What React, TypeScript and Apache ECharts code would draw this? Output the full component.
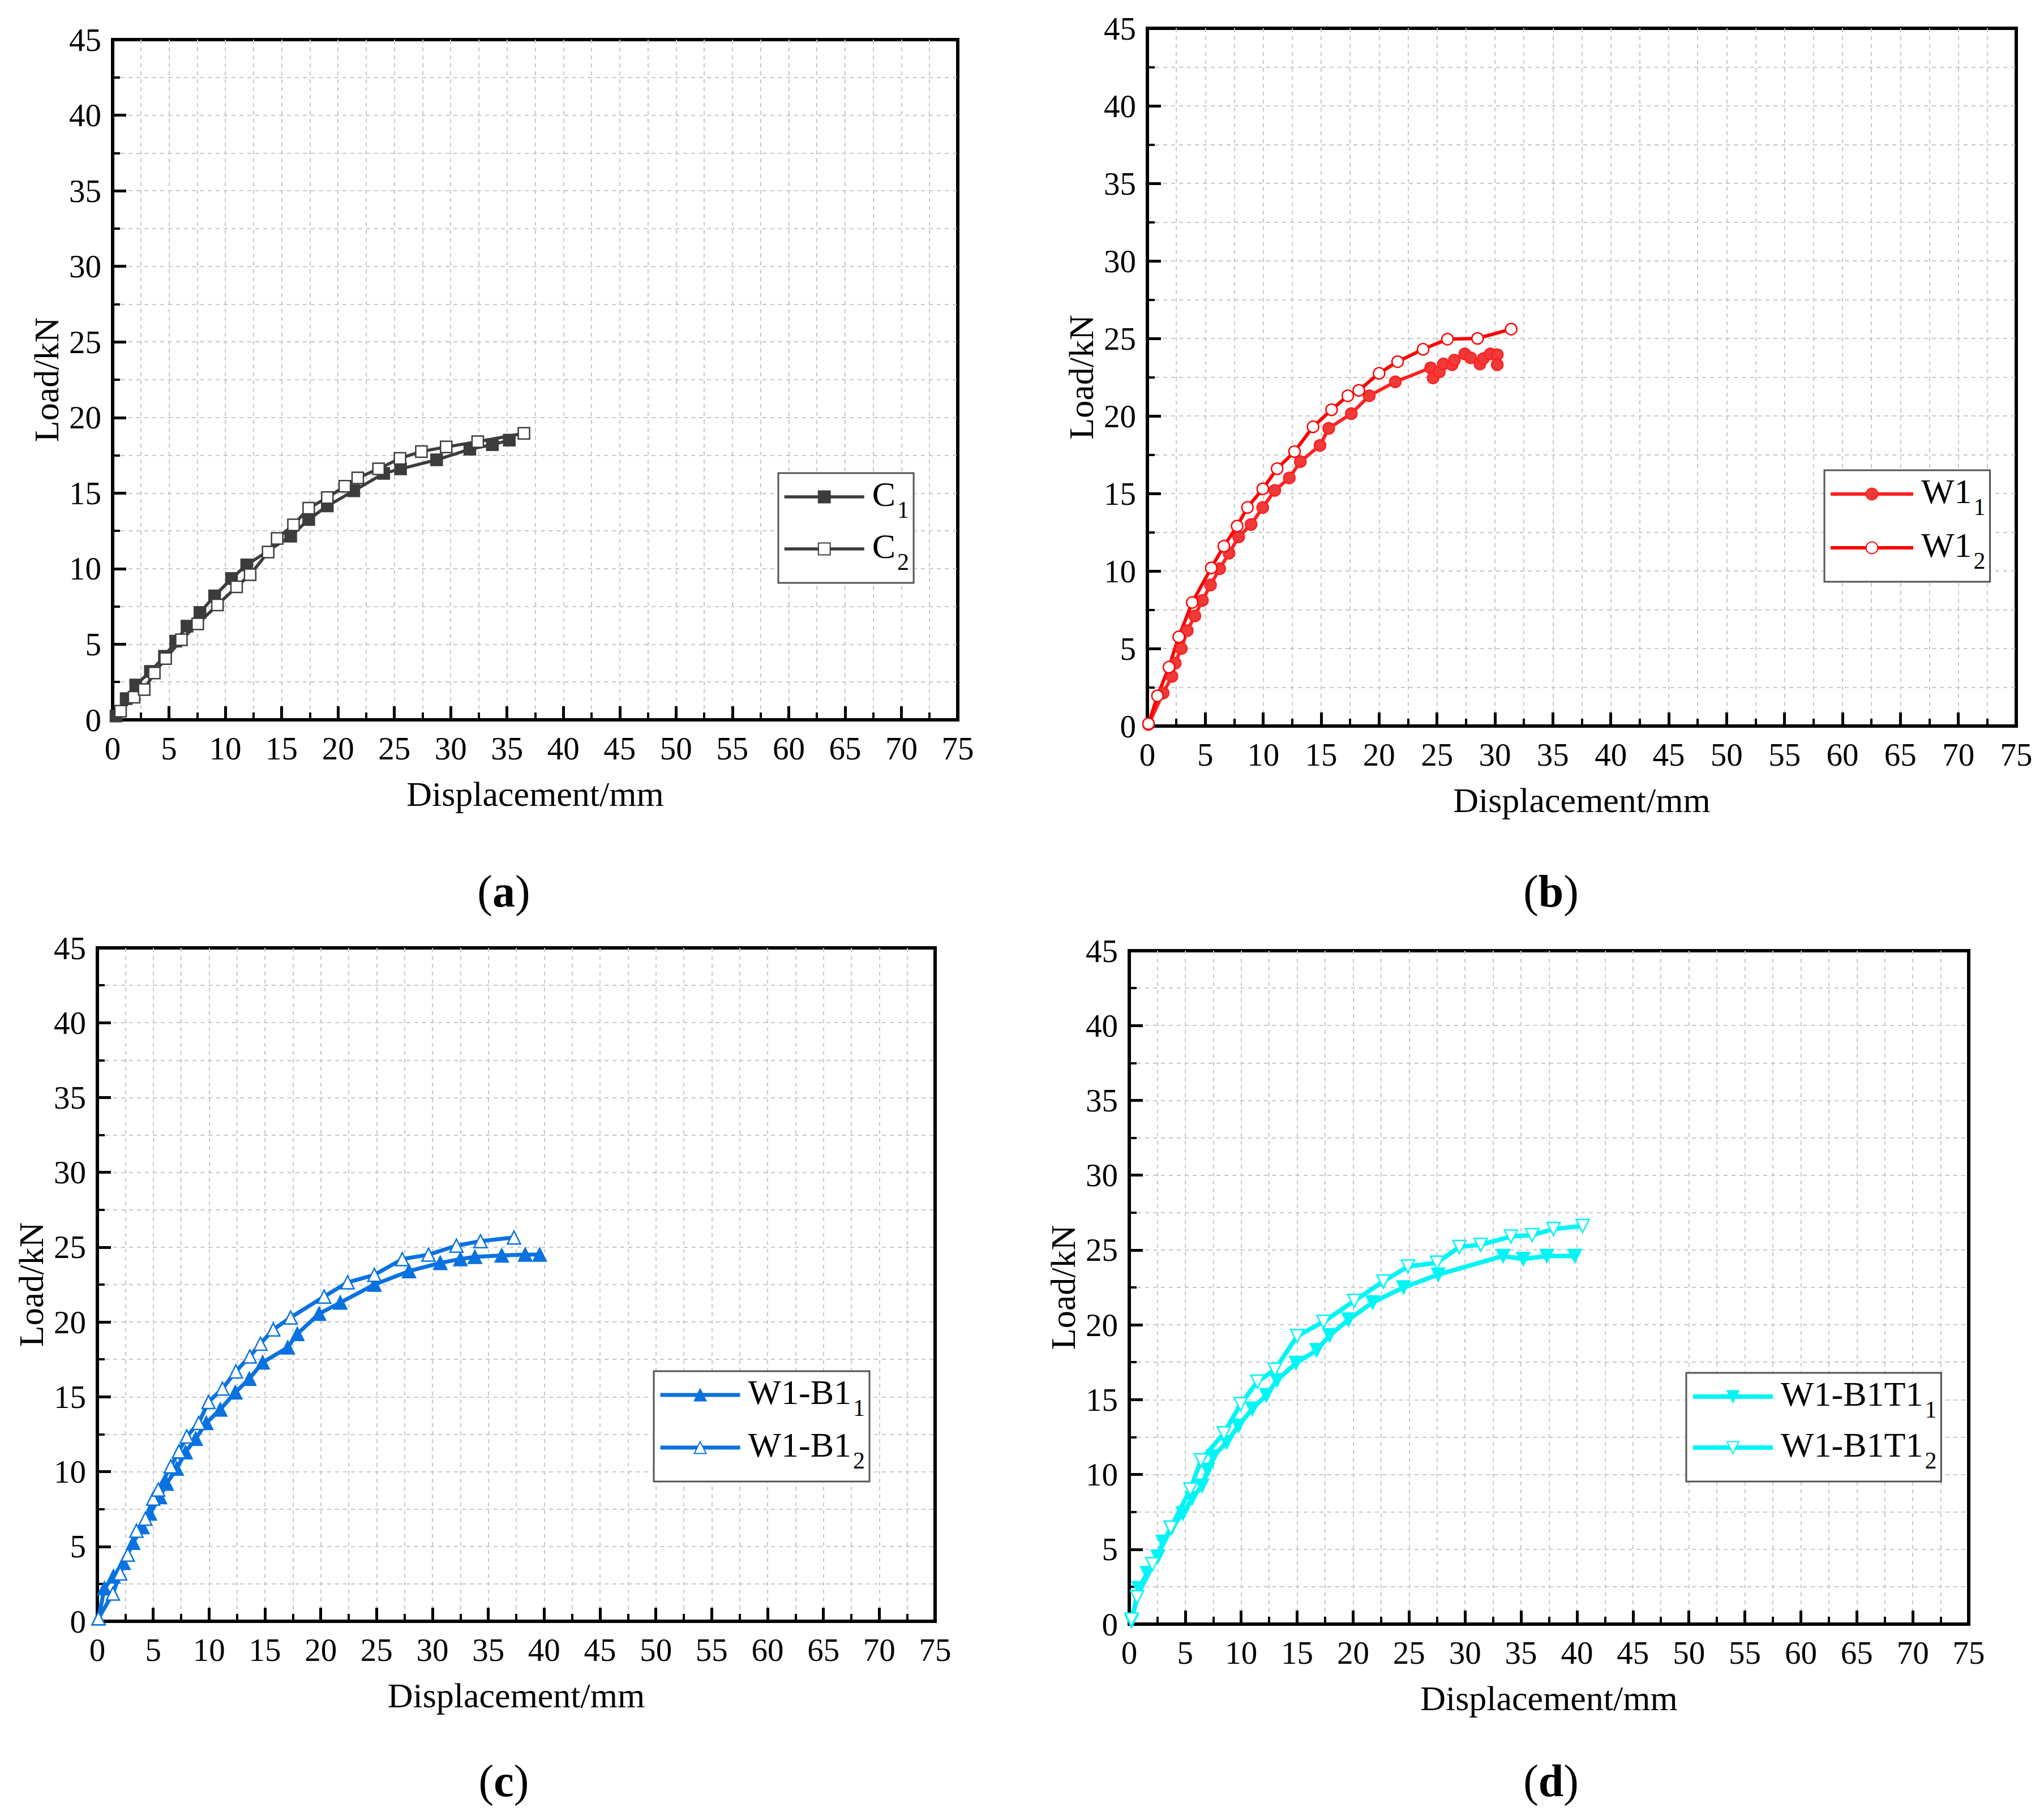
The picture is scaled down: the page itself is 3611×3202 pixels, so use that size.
import React, { useEffect, useRef } from 'react';
import * as echarts from 'echarts';

const FONT = '"Liberation Serif", "Times New Roman", serif';

// Panel (a)
const C1: number[][] = [
  [0.3, 0.25], [1.2, 1.4], [2.05, 2.3], [3.35, 3.2], [4.6, 4.2], [5.6, 5.2], [6.6, 6.2], [7.75, 7.1],
  [9.05, 8.2], [10.55, 9.35], [11.9, 10.25], [15.8, 12.15], [17.4, 13.25], [19.05, 14.15], [21.4, 15.15],
  [24.05, 16.3], [25.55, 16.6], [28.75, 17.2], [31.7, 17.9], [33.7, 18.2], [35.2, 18.5],
];
const C2: number[][] = [
  [0.7, 0.57], [1.9, 1.5], [2.8, 2.0], [3.7, 3.1], [4.7, 4.05], [6.1, 5.3], [7.55, 6.35], [9.3, 7.6],
  [11.0, 8.8], [12.2, 9.6], [13.8, 11.1], [14.6, 12.0], [16.05, 12.9], [17.4, 14.0], [19.05, 14.7],
  [20.6, 15.45], [21.75, 16.0], [23.6, 16.6], [25.5, 17.3], [27.4, 17.75], [29.6, 18.05], [32.4, 18.4],
  [36.5, 18.95],
];

// Panel (b)
const W1_1: number[][] = [
  [0.1, 0.1], [1.36, 2.13], [2.12, 3.2], [2.4, 4.05], [2.93, 5.0], [3.44, 6.15], [4.1, 7.1], [4.75, 8.1],
  [5.45, 9.1], [6.24, 10.15], [7.05, 11.15], [7.88, 12.2], [8.95, 13.0], [9.96, 14.1], [11.0, 15.2],
  [12.25, 16.0], [13.2, 17.05], [14.9, 18.1], [15.65, 19.2], [17.6, 20.15], [19.15, 21.3], [21.4, 22.2],
  [24.45, 23.1], [24.66, 22.45], [25.2, 22.85], [25.55, 23.35], [26.3, 23.3], [26.5, 23.6], [27.4, 24.0],
  [27.9, 23.75], [28.7, 23.35], [29.0, 23.7], [29.6, 24.0], [30.2, 23.95], [30.2, 23.3],
];
const W1_2: number[][] = [
  [0.1, 0.15], [0.87, 1.95], [1.86, 3.8], [2.71, 5.75], [3.87, 7.97], [5.51, 10.2], [6.6, 11.6], [7.75, 12.9],
  [8.64, 14.1], [9.96, 15.3], [11.2, 16.6], [12.7, 17.7], [14.3, 19.3], [15.9, 20.4], [17.3, 21.3],
  [18.25, 21.65], [20.0, 22.75], [21.6, 23.5], [23.8, 24.3], [25.9, 24.95], [28.5, 25.0], [31.4, 25.6],
];

// Panel (c)
const WB1_1: number[][] = [
  [0.1, 0.2], [0.63, 2.2], [1.44, 3.0], [2.34, 3.9], [3.2, 5.25], [4.03, 6.3], [4.7, 7.2], [5.6, 8.3],
  [6.2, 9.2], [7.1, 10.2], [7.9, 11.3], [8.8, 12.2], [9.75, 13.25], [11.0, 14.15], [12.35, 15.3],
  [13.6, 16.2], [14.8, 17.3], [17.05, 18.3], [17.9, 19.2], [19.85, 20.55], [21.75, 21.3], [24.8, 22.5],
  [27.9, 23.4], [30.7, 23.95], [32.5, 24.2], [33.8, 24.35], [36.2, 24.45], [38.3, 24.5], [39.6, 24.5],
];
const WB1_2: number[][] = [
  [0.1, 0.2], [1.39, 1.85], [2.04, 3.2], [2.72, 4.45], [3.5, 6.05], [4.3, 6.85], [5.0, 8.2], [5.45, 8.8],
  [6.57, 10.35], [7.3, 11.35], [8.0, 12.35], [9.07, 13.25], [9.95, 14.65], [11.2, 15.55], [12.4, 16.7],
  [13.65, 17.7], [14.6, 18.55], [15.75, 19.5], [17.3, 20.3], [20.3, 21.7], [22.4, 22.65], [24.8, 23.15],
  [27.3, 24.2], [29.65, 24.5], [32.15, 25.1], [34.3, 25.4], [37.3, 25.65],
];

// Panel (d)
const WBT1_1: number[][] = [
  [0.2, 0.2], [0.84, 2.4], [1.6, 3.4], [2.55, 4.5], [3.0, 5.5], [3.8, 6.45], [4.8, 7.4], [5.6, 8.4],
  [6.5, 9.25], [7.0, 10.3], [7.5, 11.2], [8.7, 12.15], [9.75, 13.25], [11.0, 14.4], [12.25, 15.3],
  [13.2, 16.3], [14.9, 17.45], [16.75, 18.3], [17.9, 19.3], [19.6, 20.35], [21.75, 21.5], [24.5, 22.5],
  [27.6, 23.35], [33.4, 24.6], [35.2, 24.4], [37.3, 24.6], [39.8, 24.6],
];
const WBT1_2: number[][] = [
  [0.2, 0.3], [0.7, 1.8], [2.07, 4.0], [3.7, 6.45], [5.46, 9.0], [6.4, 10.95], [8.45, 12.75], [9.95, 14.7],
  [11.45, 16.2], [13.0, 17.0], [15.0, 19.25], [17.35, 20.2], [20.1, 21.6], [22.7, 22.9], [24.9, 23.9],
  [27.5, 24.15], [29.5, 25.2], [31.4, 25.35], [34.1, 25.9], [36.0, 26.0], [37.9, 26.4], [40.5, 26.6],
];

const X_MIN = 0, X_MAX = 75, X_STEP = 5;
const Y_MIN = 0, Y_MAX = 45, Y_STEP = 5;
const X_NAME = 'Displacement/mm';
const Y_NAME = 'Load/kN';
const CAPTIONS = ['a', 'b', 'c', 'd'];

type SeriesDef = { id: string; main: string; sub: string; data: number[][]; color: string; fill: string; symbol: string; rotate: number; size: number; width: number };

const PANELS: { grid: any; legend: any; cap: number[]; series: SeriesDef[] }[] = [
  {
    grid: { left: 199, top: 70, width: 1493, height: 1202 },
    legend: { left: 1375, top: 836, itemWidth: 141, itemGap: 12, lineWidth: 5.5 },
    cap: [890, 1575],
    series: [
      { id: 'C1', main: 'C', sub: '1', data: C1, color: '#3c3c3c', fill: '#3c3c3c', symbol: 'rect', rotate: 0, size: 20, width: 5.5 },
      { id: 'C2', main: 'C', sub: '2', data: C2, color: '#3c3c3c', fill: '#ffffff', symbol: 'rect', rotate: 0, size: 20, width: 5.5 },
    ],
  },
  {
    grid: { left: 2027, top: 50, width: 1535, height: 1233 },
    legend: { left: 3223, top: 831, itemWidth: 146, itemGap: 15, lineWidth: 6 },
    cap: [2740, 1575],
    series: [
      { id: 'W11', main: 'W1', sub: '1', data: W1_1, color: '#ff2020', fill: '#f03a3a', symbol: 'circle', rotate: 0, size: 20, width: 6 },
      { id: 'W12', main: 'W1', sub: '2', data: W1_2, color: '#ff0000', fill: '#ffffff', symbol: 'circle', rotate: 0, size: 20, width: 6 },
    ],
  },
  {
    grid: { left: 172, top: 1675, width: 1480, height: 1190 },
    legend: { left: 1155, top: 2423, itemWidth: 141, itemGap: 13, lineWidth: 7 },
    cap: [890, 3147],
    series: [
      { id: 'WB11', main: 'W1-B1', sub: '1', data: WB1_1, color: '#0a72e0', fill: '#0a72e0', symbol: 'triangle', rotate: 0, size: 23, width: 7 },
      { id: 'WB12', main: 'W1-B1', sub: '2', data: WB1_2, color: '#0a72e0', fill: '#ffffff', symbol: 'triangle', rotate: 0, size: 23, width: 7 },
    ],
  },
  {
    grid: { left: 1995, top: 1680, width: 1483, height: 1190 },
    legend: { left: 2979, top: 2426, itemWidth: 141, itemGap: 10, lineWidth: 8 },
    cap: [2740, 3147],
    series: [
      { id: 'WBT11', main: 'W1-B1T1', sub: '1', data: WBT1_1, color: '#00f5f5', fill: '#00f5f5', symbol: 'triangle', rotate: 180, size: 23, width: 8 },
      { id: 'WBT12', main: 'W1-B1T1', sub: '2', data: WBT1_2, color: '#00f5f5', fill: '#ffffff', symbol: 'triangle', rotate: 180, size: 23, width: 8 },
    ],
  },
];

const GRID_LINE = { color: '#c8c8c8', type: [7, 7] as any, width: 2 };

function buildOption() {
  const nameMap: Record<string, { main: string; sub: string }> = {};
  PANELS.forEach((p) => p.series.forEach((s) => (nameMap[s.id] = { main: s.main, sub: s.sub })));

  const grid = PANELS.map((p) => ({
    ...p.grid,
    show: true,
    borderColor: '#000',
    borderWidth: 6,
    backgroundColor: 'transparent',
    containLabel: false,
  }));

  const xAxis = PANELS.map((_, i) => ({
    type: 'value',
    gridIndex: i,
    min: X_MIN,
    max: X_MAX,
    interval: X_STEP,
    name: X_NAME,
    nameLocation: 'middle',
    nameGap: 100,
    nameTextStyle: { fontFamily: FONT, fontSize: 62, color: '#000' },
    axisLine: { show: true, onZero: false, lineStyle: { color: '#000', width: 6 } },
    axisTick: { show: true, inside: true, length: 24, lineStyle: { color: '#000', width: 5 } },
    minorTick: { show: true, splitNumber: 2, length: 13, lineStyle: { color: '#000', width: 4 } },
    axisLabel: { fontFamily: FONT, fontSize: 57, color: '#000', margin: 22 },
    splitLine: { show: true, showMinLine: false, showMaxLine: false, lineStyle: GRID_LINE },
    minorSplitLine: { show: true, lineStyle: GRID_LINE },
  }));

  const yAxis = PANELS.map((_, i) => ({
    type: 'value',
    gridIndex: i,
    min: Y_MIN,
    max: Y_MAX,
    interval: Y_STEP,
    name: Y_NAME,
    nameLocation: 'middle',
    nameRotate: 90,
    nameGap: 86,
    nameTextStyle: { fontFamily: FONT, fontSize: 62, color: '#000' },
    axisLine: { show: true, onZero: false, lineStyle: { color: '#000', width: 6 } },
    axisTick: { show: true, inside: true, length: 24, lineStyle: { color: '#000', width: 5 } },
    minorTick: { show: true, splitNumber: 2, length: 13, lineStyle: { color: '#000', width: 4 } },
    axisLabel: { fontFamily: FONT, fontSize: 57, color: '#000', margin: 20 },
    splitLine: { show: true, showMinLine: false, showMaxLine: false, lineStyle: GRID_LINE },
    minorSplitLine: { show: true, lineStyle: GRID_LINE },
  }));

  const series: any[] = [];
  PANELS.forEach((p, i) => {
    p.series.forEach((s) => {
      series.push({
        type: 'line',
        name: s.id,
        xAxisIndex: i,
        yAxisIndex: i,
        data: s.data,
        symbol: s.symbol,
        symbolSize: s.size,
        symbolRotate: s.rotate,
        showSymbol: true,
        clip: false,
        lineStyle: { color: s.color, width: s.width },
        itemStyle: { color: s.fill, borderColor: s.color, borderWidth: 2.5 },
        emphasis: { disabled: true },
        z: 3,
      });
    });
  });

  const legend = PANELS.map((p) => ({
    data: p.series.map((s) => s.id),
    orient: 'vertical',
    left: p.legend.left,
    top: p.legend.top,
    itemWidth: p.legend.itemWidth,
    itemHeight: 26,
    itemGap: p.legend.itemGap,
    padding: [6, 8, 16, 8],
    backgroundColor: '#fff',
    borderColor: '#555',
    borderWidth: 3,
    borderRadius: 0,
    selectedMode: false,
    lineStyle: { width: p.legend.lineWidth },
    formatter: (name: string) => `{m|${nameMap[name].main}}{s|${nameMap[name].sub}}`,
    textStyle: {
      fontFamily: FONT,
      fontSize: 62,
      color: '#000',
      rich: {
        m: { fontFamily: FONT, fontSize: 62, color: '#000', lineHeight: 72, verticalAlign: 'top', padding: [0, 0, 0, 9] },
        s: { fontFamily: FONT, fontSize: 42, color: '#000', lineHeight: 42, verticalAlign: 'top', padding: [38, 0, 0, 3] },
      },
    },
  }));

  const graphic = PANELS.map((p, i) => ({
    type: 'text',
    x: p.cap[0],
    y: p.cap[1],
    style: {
      text: `{p|(}{b|${CAPTIONS[i]}}{p|)}`,
      align: 'center',
      verticalAlign: 'middle',
      rich: {
        p: { fontFamily: FONT, fontSize: 80, fill: '#000', color: '#000' },
        b: { fontFamily: FONT, fontSize: 80, fontWeight: 'bold', fill: '#000', color: '#000' },
      },
    },
  }));

  return {
    animation: false,
    backgroundColor: '#fff',
    grid,
    xAxis,
    yAxis,
    series,
    legend,
    graphic,
  };
}

export default function App() {
  const ref = useRef<HTMLDivElement>(null);
  useEffect(() => {
    if (!ref.current) return;
    const chart = echarts.init(ref.current, undefined, { renderer: 'svg' });
    chart.setOption(buildOption() as any);
    return () => chart.dispose();
  }, []);
  return (
    <div
      ref={ref}
      style={{ position: 'absolute', left: 0, top: 0, width: 3611, height: 3202, background: '#fff' }}
    />
  );
}
